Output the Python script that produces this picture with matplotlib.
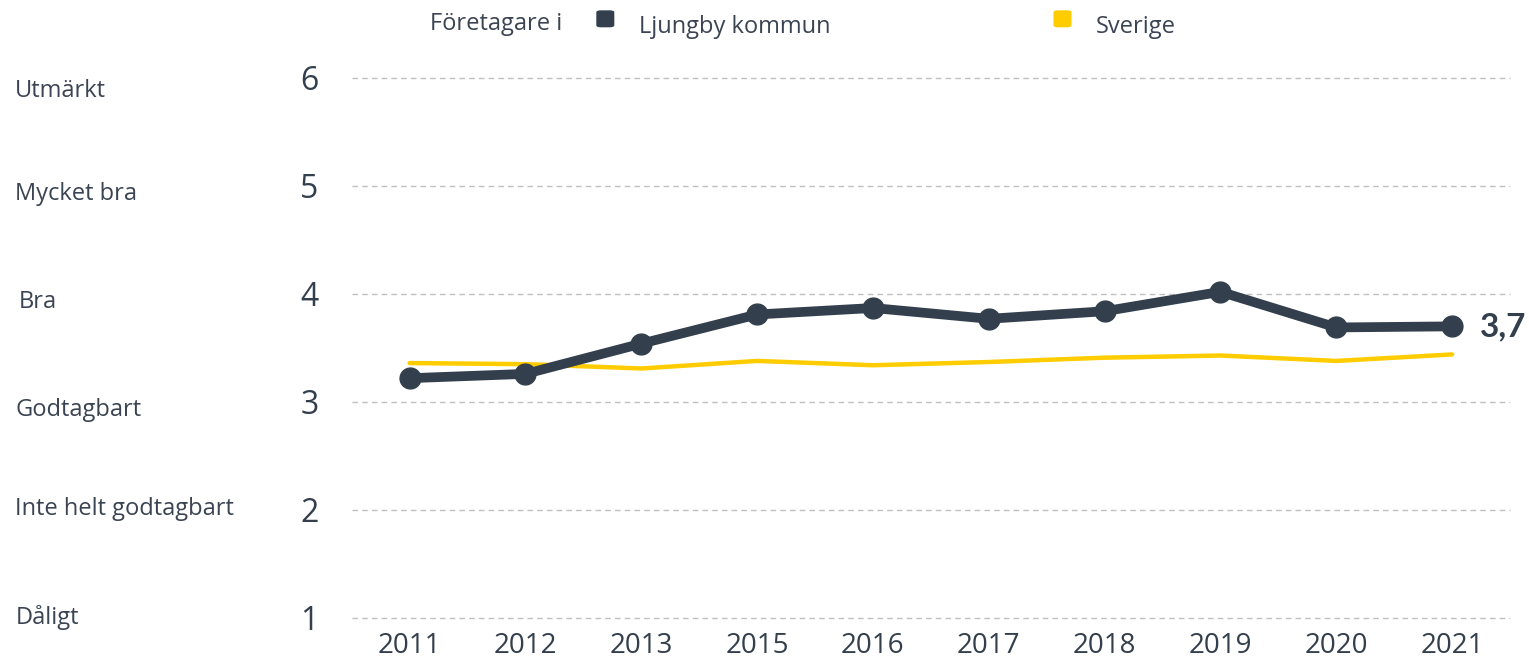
import matplotlib.pyplot as plt
from matplotlib.patches import FancyBboxPatch
from matplotlib.transforms import blended_transform_factory

years = ['2011', '2012', '2013', '2015', '2016', '2017', '2018', '2019', '2020', '2021']
ljungby = [3.22, 3.26, 3.54, 3.81, 3.87, 3.77, 3.84, 4.02, 3.69, 3.70]
sverige = [3.36, 3.35, 3.31, 3.38, 3.34, 3.37, 3.41, 3.43, 3.38, 3.44]
grade_labels = ['Dåligt', 'Inte helt godtagbart', 'Godtagbart', 'Bra', 'Mycket bra', 'Utmärkt']
grade_values = [1, 2, 3, 4, 5, 6]

dark = '#333F4C'
yellow = '#FFCC00'
txt = '#3A4452'

fig = plt.figure(figsize=(15.29, 6.72), dpi=100)
ax = fig.add_axes([0.230, 0.0804, 0.7576, 0.8036])

x = list(range(len(years)))
ax.plot(x, sverige, color=yellow, lw=3.2, solid_capstyle='round', zorder=2)
ax.plot(x, ljungby, color=dark, lw=7, marker='o', markersize=15,
        solid_capstyle='round', zorder=3)
ax.text(x[-1] + 0.24, ljungby[-1], '3,7', color=dark, fontsize=24,
        fontweight='bold', family='Lato', va='center', ha='left')

ax.set_xlim(-0.5, 9.5)
ax.set_ylim(1, 6)
ax.set_yticks(grade_values)
ax.set_yticklabels([str(v) for v in grade_values])
ax.set_xticks(x)
ax.set_xticklabels(years)
ax.tick_params(length=0, colors=dark)
ax.tick_params(axis='y', pad=24, labelsize=23)
ax.tick_params(axis='x', pad=10, labelsize=20)
for lab in ax.get_xticklabels() + ax.get_yticklabels():
    lab.set_family('Open Sans')
ax.grid(axis='y', color='#BFBFBF', ls=(0, (4, 3)), lw=1)
for gl in ax.get_ygridlines():
    gl.set_clip_on(False)
for s in ax.spines.values():
    s.set_visible(False)

# grade names on the far left
tr = blended_transform_factory(fig.transFigure, ax.transData)
offsets = [0.0, 0.01, -0.07, -0.07, -0.07, -0.12]
for lab, v, off in zip(grade_labels, grade_values, offsets):
    ax.text(0.010 if lab != 'Bra' else 0.012, v + off, lab, transform=tr,
            fontsize=17, color=txt, family='Open Sans', va='center', ha='left')

# legend on top
fig.text(0.281, 0.965, 'Företagare i', fontsize=17, color=txt, family='Open Sans',
         va='center', ha='left')
for xf, col, lab in [(0.390, dark, 'Ljungby kommun'), (0.689, yellow, 'Sverige')]:
    w = 18 / 1529
    h = 17 / 672
    fig.patches.append(FancyBboxPatch((xf, 0.972 - h / 2), w, h,
                                      boxstyle='round,pad=0,rounding_size=0.003',
                                      transform=fig.transFigure, fc=col, ec='none'))
    fig.text(xf + 0.028, 0.960, lab, fontsize=17, color=txt, family='Open Sans',
             va='center', ha='left')

fig.savefig('out.png', dpi=100)
